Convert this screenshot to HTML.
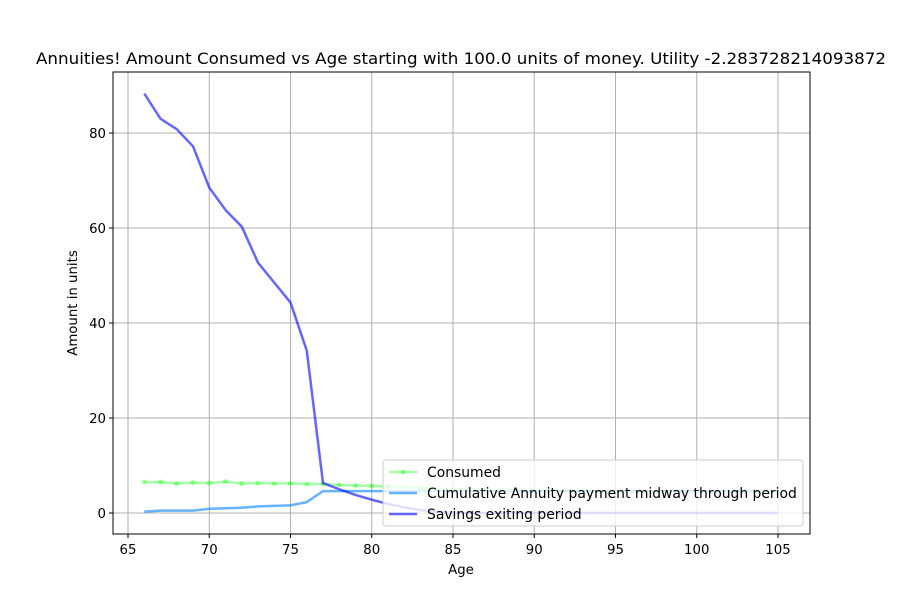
<!DOCTYPE html>
<html><head><meta charset="utf-8"><style>body{margin:0;background:#fff}svg{display:block;font-family:"DejaVu Sans","Liberation Sans",sans-serif}</style></head>
<body>
<svg id="chart" width="900" height="600"></svg>
<script>
const ages=[];for(let a=66;a<=105;a++)ages.push(a);
const savings=[88.3,83,80.8,77.2,68.5,63.8,60.3,52.7,48.5,44.3,34.2,6.3,5.0,3.8,2.8,1.9,1.2,0.6,0.2,0,0,0,0,0,0,0,0,0,0,0,0,0,0,0,0,0,0,0,0,0];
const consumed=[6.5,6.5,6.2,6.4,6.3,6.6,6.2,6.3,6.2,6.2,6.1,6.1,5.9,5.8,5.7,5.6,5.4,5.3,5.1,5.0,4.9,4.8,4.8,4.7,4.7,4.7,4.6,4.6,4.6,4.6,4.6,4.6,4.6,4.6,4.6,4.6,4.6,4.6,4.6,4.6];
const annuity=[0.3,0.5,0.5,0.5,0.9,1.0,1.1,1.4,1.5,1.6,2.3,4.6,4.6,4.6,4.6,4.6,4.6,4.6,4.6,4.6,4.6,4.6,4.6,4.6,4.6,4.6,4.6,4.6,4.6,4.6,4.6,4.6,4.6,4.6,4.6,4.6,4.6,4.6,4.6,4.6];
const xTicks=[65,70,75,80,85,90,95,100,105];
const yTicks=[0,20,40,60,80];
const NS="http://www.w3.org/2000/svg",svg=document.getElementById('chart');
const L=113,R=810,T=72,B=534;
const X=v=>128+(v-65)*16.25, Y=v=>513-v*4.75;
function el(t,a,p){const e=document.createElementNS(NS,t);for(const k in a)e.setAttribute(k,a[k]);(p||svg).appendChild(e);return e;}
xTicks.forEach(v=>{const g=el('line',{x1:X(v),x2:X(v),y1:T,y2:B,stroke:'#b0b0b0','stroke-width':1});

el('line',{x1:X(v),x2:X(v),y1:B,y2:B+4,stroke:'#000'});
const t=el('text',{x:X(v),y:B+20,'text-anchor':'middle','font-size':13.3});t.textContent=v;
});
yTicks.forEach(v=>{const g=el('line',{x1:L,x2:R,y1:Y(v),y2:Y(v),stroke:'#b0b0b0','stroke-width':1});

el('line',{x1:L-4,x2:L,y1:Y(v),y2:Y(v),stroke:'#000'});
const t=el('text',{x:L-7,y:Y(v)+5,'text-anchor':'end','font-size':13.3});t.textContent=v;
});
function line(vals,color,w,op,name){const p=el('polyline',{points:vals.map((v,i)=>X(ages[i])+','+Y(v)).join(' '),fill:'none',stroke:color,'stroke-width':w,'stroke-opacity':op,'stroke-linejoin':'round'});
return p;}
line(consumed,'#00ff00',2.5,0.35,'consumed-line');
consumed.forEach((v,i)=>{const c=el('circle',{cx:X(ages[i]),cy:Y(v),r:2.5,fill:'#00ff00','fill-opacity':0.35});
});
line(annuity,'#0080ff',2.5,0.6,'annuity-line');
line(savings,'#0000ff',2.5,0.6,'savings-line');
const fr=el('rect',{x:L,y:T,width:R-L,height:B-T,fill:'none',stroke:'#000','stroke-width':1});

const tt=el('text',{x:461,y:64,'text-anchor':'middle','font-size':16,textLength:850,lengthAdjust:'spacingAndGlyphs'});tt.textContent='Annuities! Amount Consumed vs Age starting with 100.0 units of money. Utility -2.283728214093872';

const xt=el('text',{x:461,y:574,'text-anchor':'middle','font-size':13.3});xt.textContent='Age';

const yt=el('text',{x:77,y:303,'text-anchor':'middle','font-size':13.3,transform:'rotate(-90 77 303)'});yt.textContent='Amount in units';

const lg=el('g',{});
el('rect',{x:383,y:460,width:420,height:66,rx:3,fill:'#fff','fill-opacity':0.8,stroke:'#ccc'},lg);
const entries=[['Consumed','#00ff00',2.5,0.35,true],['Cumulative Annuity payment midway through period','#0080ff',2.5,0.6,false],['Savings exiting period','#0000ff',2.5,0.6,false]];
entries.forEach((e,i)=>{const y=472+i*21;
const g=el('g',{},lg);
el('line',{x1:389,x2:417,y1:y,y2:y,stroke:e[1],'stroke-width':e[2],'stroke-opacity':e[3]},g);
if(e[4])el('circle',{cx:403,cy:y,r:2.5,fill:e[1],'fill-opacity':0.35},g);
const t=el('text',{x:427,y:y+5,'font-size':13.9},g);t.textContent=e[0];});
</script>
</body></html>
